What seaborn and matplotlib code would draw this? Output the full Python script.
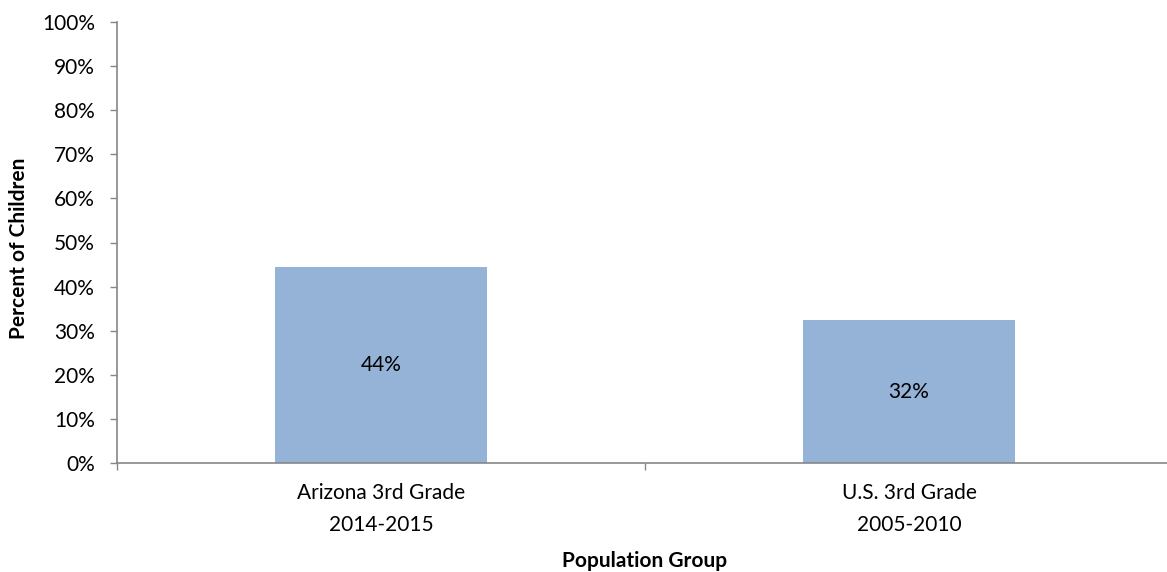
import matplotlib
matplotlib.use("Agg")
import matplotlib.pyplot as plt
import seaborn as sns
import pandas as pd
from matplotlib.ticker import FixedLocator, PercentFormatter

categories = ["Arizona 3rd Grade\n2014-2015", "U.S. 3rd Grade\n2005-2010"]
values = [44.4, 32.4]
labels = ["44%", "32%"]

sns.set_theme(style="white")
plt.rcParams['font.family'] = ['Lato', 'DejaVu Sans']
plt.rcParams['text.color'] = 'black'
plt.rcParams['xtick.color'] = 'black'
plt.rcParams['ytick.color'] = 'black'
plt.rcParams['axes.labelcolor'] = 'black'

FS = 15

df = pd.DataFrame({"group": categories, "pct": values})

fig = plt.figure(figsize=(11.67, 5.72), dpi=100)
ax = fig.add_axes([117/1167, 109/572, 1056/1167, 441/572])
sns.barplot(data=df, x="group", y="pct", color="#95B3D7", width=0.4,
            saturation=1, ax=ax, edgecolor="none")

ax.set_xlim(-0.5, 1.5)
ax.set_ylim(0, 100)
ax.yaxis.set_major_locator(FixedLocator(range(0, 101, 10)))
ax.yaxis.set_major_formatter(PercentFormatter(decimals=0))

for c, lab in zip(ax.containers, [labels]):
    ax.bar_label(c, labels=lab, label_type="center", fontsize=FS, color="black")

ax.xaxis.set_minor_locator(FixedLocator([-0.5, 0.5, 1.5]))
ax.tick_params(axis="x", which="major", length=0, labelsize=FS, pad=14.5,
               labelcolor="black")
ax.tick_params(axis="x", which="minor", length=5, width=1, color="#868686",
               direction="out", bottom=True)
ax.tick_params(axis="y", which="major", length=5, width=1, color="#868686",
               direction="out", left=True, labelsize=FS, pad=11, labelcolor="black")
for t in ax.get_xticklabels():
    t.set_linespacing(1.75)

for s in ["top", "right"]:
    ax.spines[s].set_visible(False)
for s in ["left", "bottom"]:
    ax.spines[s].set_color("#868686")
    ax.spines[s].set_linewidth(1.2)

ax.set_xlabel("Population Group", fontsize=FS, fontweight="bold")
ax.set_ylabel("Percent of Children", fontsize=FS, fontweight="bold")
ax.xaxis.set_label_coords(0.5, -(551 - 463) / 441)
ax.yaxis.label.set_verticalalignment("center")
ax.yaxis.set_label_coords((19.5 - 117) / 1056, (463 - 248) / 441)

fig.savefig("out.png", dpi=100)
